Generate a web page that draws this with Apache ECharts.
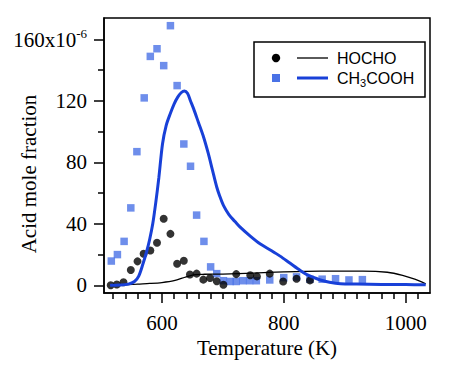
<!DOCTYPE html>
<html><head><meta charset="utf-8">
<script src="https://cdn.jsdelivr.net/npm/echarts@6/dist/echarts.min.js"></script>
<style>html,body{margin:0;padding:0;background:#fff}#c{width:474px;height:365px}</style>
</head><body><div id="c"></div>
<script>
// HOCHO measured (scatter)
const hochoT = [516,526,537,549,560,570,581,592,603,614,625,636,646,657,668,679,690,701,722,745,756,777,799,821,843];
const hochoY = [0,0.5,2,10,15.6,20.5,22.7,27.7,43.3,33.5,14,16,7,7.6,3.7,4.8,2.6,0.4,7.3,6.5,5.8,7.6,2.5,4.3,3.2];
// CH3COOH measured (scatter)
const aceT = [517,527,538,549,559,571,581,592,603,614,625,636,647,657,669,680,690,701,712,722,733,744,755,777,800,821,843,863,885,907,929];
const aceY = [15.8,20,28.6,50.4,87,122,149,154,143,169,130,92,77.5,45.7,28.6,12,7.6,3,2.5,2.5,3,3,3,3.5,5,5.5,4,4,4.3,3.5,3.7];
// HOCHO model (line)
const hochoModelT = [516,540,560,580,600,620,640,655,670,700,750,800,860,930,970,995,1015,1033];
const hochoModelY = [0,0.3,0.8,1.2,1.8,3,5.5,7,7.2,7.3,8,8.8,9.3,9.3,8.5,6.5,4,1];
// CH3COOH model (line)
const aceModelT = [515,530,545,555,562,569,575,580,585,590,595,601,607,614,620,626,632,637,642,647,652,660,668,676,683,690,695,701,710,720,728,745,761,780,794,810,827,838,850,860,875,893,920,960,1000,1033];
const aceModelY = [0,0.2,0.8,2.5,6,14,22,30,40,54,70,92,104,112,118,122.5,125.5,126.5,125,120,115,106,97,86,75,64,58,52,46,41.5,38,32,27,22.5,19,14.5,9.7,7,5,3.5,2,1,0.8,0.6,0.5,0.3];
// ticks
const xMajor = [600,800,1000];
const xMinor = [520,540,560,580,620,640,660,680,700,720,740,760,780,820,840,860,880,900,920,940,960,980,1020];
const yMajor = [0,40,80,120,160];
const yMinor = [20,60,100,140];
const yTitle = 'Acid mole fraction';

const zip = (a,b)=>a.map((v,i)=>[v,b[i]]);
const BLUE_PT = '#4a72e6', BLUE_LN = '#1840d8';
const serif = 'Liberation Serif', sans = 'Liberation Sans';
const XMIN=505, XMAX=1040, YMIN=-5, YMAX=174;

const chart = echarts.init(document.getElementById('c'), null, {renderer:'svg'});
chart.setOption({
  animation:false,
  backgroundColor:'#fff',
  grid:{left:104,right:44,top:18,bottom:72,show:true,borderColor:'#000',borderWidth:1.5,backgroundColor:'transparent'},
  xAxis:[
    {type:'value',min:XMIN,max:XMAX,position:'bottom',
     axisLine:{show:true,onZero:false,lineStyle:{color:'#000',width:1.5}},
     axisTick:{show:true,inside:false,length:10,customValues:xMajor,lineStyle:{color:'#000',width:1.5}},
     axisLabel:{customValues:xMajor,margin:19,fontFamily:serif,fontSize:21,color:'#000',formatter:v=>String(v)},
     splitLine:{show:false},
     name:'Temperature (K)',nameLocation:'middle',nameGap:43,
     nameTextStyle:{fontFamily:serif,fontSize:21,color:'#000'}},
    {type:'value',min:XMIN,max:XMAX,position:'bottom',
     axisLine:{show:false,onZero:false},
     axisTick:{show:true,inside:false,length:6,customValues:xMinor,lineStyle:{color:'#000',width:1.5}},
     axisLabel:{show:false},splitLine:{show:false}}
  ],
  yAxis:[
    {type:'value',min:YMIN,max:YMAX,position:'left',
     axisLine:{show:true,onZero:false,lineStyle:{color:'#000',width:1.5}},
     axisTick:{show:true,inside:false,length:10,customValues:yMajor,lineStyle:{color:'#000',width:1.5}},
     axisLabel:{customValues:yMajor,margin:17,color:'#000',
       formatter:v=> v===160 ? '{a|160x10}{s|-6}' : '{a|'+v+'}',
       rich:{a:{fontFamily:serif,fontSize:21,color:'#000'},
             s:{fontFamily:serif,fontSize:13,color:'#000',padding:[0,0,12,0]}}},
     splitLine:{show:false}},
    {type:'value',min:YMIN,max:YMAX,position:'left',
     axisLine:{show:false,onZero:false},
     axisTick:{show:true,inside:false,length:6,customValues:yMinor,lineStyle:{color:'#000',width:1.5}},
     axisLabel:{show:false},splitLine:{show:false}}
  ],
  series:[
    {type:'scatter',name:'CH3COOH data',data:zip(aceT,aceY),symbol:'rect',symbolSize:7.5,itemStyle:{color:BLUE_PT},z:2},
    {type:'scatter',name:'HOCHO data',data:zip(hochoT,hochoY),symbol:'circle',symbolSize:8,itemStyle:{color:'#000'},z:3},
    {type:'line',name:'HOCHO model',data:zip(hochoModelT,hochoModelY),showSymbol:false,smooth:0.3,lineStyle:{color:'#000',width:1.3},z:4},
    {type:'line',name:'CH3COOH model',data:zip(aceModelT,aceModelY),showSymbol:false,smooth:0.3,lineStyle:{color:BLUE_LN,width:3},z:5}
  ],
  graphic:[
    {type:'text',x:29,y:174,rotation:Math.PI/2,style:{text:yTitle,font:'21px "Liberation Serif"',fill:'#000',align:'center',verticalAlign:'middle'},z:11},
    {type:'rect',shape:{x:254,y:42,width:171,height:55},style:{fill:'#fff',stroke:'#000',lineWidth:1.5},z:10},
    {type:'circle',shape:{cx:276,cy:58,r:4.2},style:{fill:'#000'},z:11},
    {type:'line',shape:{x1:297,y1:58,x2:328,y2:58},style:{stroke:'#000',lineWidth:1.3},z:11},
    {type:'text',x:337,y:58,style:{text:'HOCHO',font:'16px "Liberation Sans"',fill:'#000',verticalAlign:'middle'},z:11},
    {type:'rect',shape:{x:272,y:74,width:8,height:8},style:{fill:BLUE_PT},z:11},
    {type:'line',shape:{x1:297,y1:78,x2:328,y2:78},style:{stroke:BLUE_LN,lineWidth:3},z:11},
    {type:'text',x:337,y:78,style:{text:'{n|CH}{s|3}{n|COOH}',verticalAlign:'middle',
      rich:{n:{fontFamily:sans,fontSize:16,fill:'#000',color:'#000'},
            s:{fontFamily:sans,fontSize:11,color:'#000',padding:[10,0,0,0]}}},z:11}
  ]
});
</script></body></html>
